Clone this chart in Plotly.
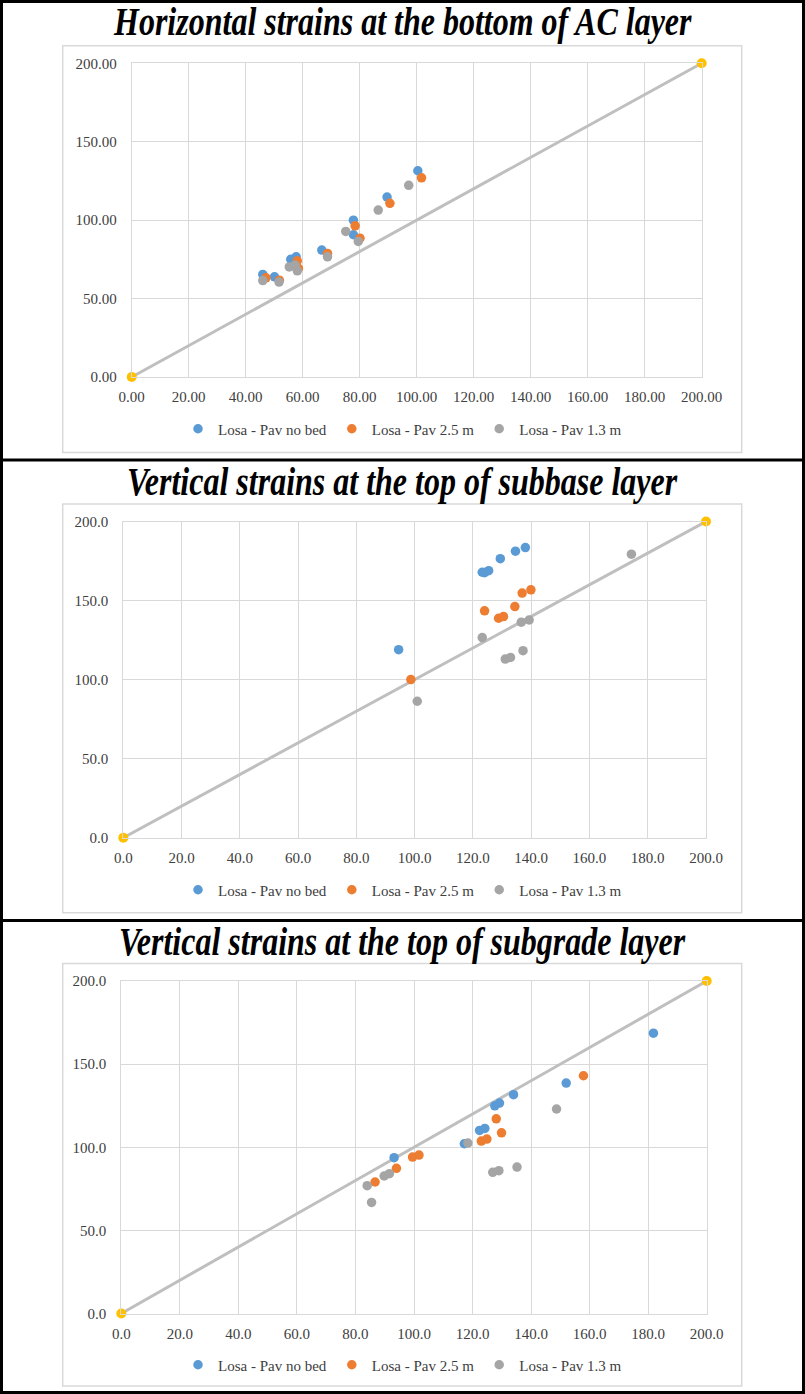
import plotly.graph_objects as go

W, H = 805, 1394

titles = [
    "Horizontal strains at the bottom of AC layer",
    "Vertical strains at the top of subbase layer",
    "Vertical strains at the top of subgrade layer",
]
series_names = ["Losa - Pav no bed", "Losa - Pav 2.5 m", "Losa - Pav 1.3 m"]
series_colors = ["#5B9BD5", "#ED7D31", "#A5A5A5"]

# reference line y = x (with end markers)
ref_x = [0, 200]
ref_y = [0, 200]

# ---- Panel 1: horizontal strains, bottom of AC layer ----
p1_nobed_x = [100.4, 89.6, 77.8, 77.8, 66.7, 57.7, 55.8, 46.0, 50.1]
p1_nobed_y = [131.5, 114.7, 100.0, 90.7, 80.9, 76.6, 75.0, 65.4, 63.9]
p1_25_x = [101.7, 90.6, 78.4, 80.1, 68.7, 58.1, 58.5, 47.1, 51.8]
p1_25_y = [127.0, 110.7, 96.4, 88.5, 78.8, 74.1, 69.2, 63.2, 61.7]
p1_13_x = [97.2, 86.5, 75.1, 79.5, 68.7, 55.3, 57.3, 58.1, 46.0, 51.7]
p1_13_y = [122.2, 106.4, 92.8, 86.4, 76.6, 70.2, 71.3, 67.7, 61.5, 60.5]

# ---- Panel 2: vertical strains, top of subbase layer ----
p2_nobed_x = [94.5, 123.2, 124.0, 125.4, 129.4, 134.6, 138.0]
p2_nobed_y = [118.9, 167.9, 167.6, 168.9, 176.5, 181.2, 183.5]
p2_25_x = [98.7, 124.0, 128.8, 130.5, 134.4, 136.9, 139.9]
p2_25_y = [100.0, 143.5, 138.8, 139.9, 146.2, 154.7, 156.8]
p2_13_x = [100.9, 123.2, 131.1, 132.9, 137.2, 136.6, 139.3, 174.4]
p2_13_y = [86.3, 126.6, 113.0, 114.0, 118.3, 136.3, 137.7, 179.3]

# ---- Panel 3: vertical strains, top of subgrade layer ----
p3_nobed_x = [93.2, 117.2, 122.4, 124.2, 127.6, 129.2, 134.0, 152.0, 181.8]
p3_nobed_y = [93.7, 102.1, 110.1, 111.3, 124.9, 126.6, 131.6, 138.6, 168.6]
p3_25_x = [86.7, 94.0, 99.5, 101.7, 123.0, 124.9, 128.1, 129.9, 157.9]
p3_25_y = [79.1, 87.3, 94.1, 95.3, 103.7, 104.9, 117.1, 108.7, 143.0]
p3_13_x = [84.0, 85.5, 89.8, 91.6, 118.4, 126.9, 129.0, 135.2, 148.7]
p3_13_y = [76.9, 66.8, 82.7, 84.1, 102.5, 84.9, 85.9, 88.1, 123.0]

panels = [
    dict(data=[(p1_nobed_x, p1_nobed_y), (p1_25_x, p1_25_y), (p1_13_x, p1_13_y)],
         fmt=".2f"),
    dict(data=[(p2_nobed_x, p2_nobed_y), (p2_25_x, p2_25_y), (p2_13_x, p2_13_y)],
         fmt=".1f"),
    dict(data=[(p3_nobed_x, p3_nobed_y), (p3_25_x, p3_25_y), (p3_13_x, p3_13_y)],
         fmt=".1f"),
]

# layout geometry in pixels
plot_px = [  # left, right, top, bottom of plot area
    (131.7, 701.7, 63.3, 377.0),
    (123.3, 706.0, 521.5, 837.7),
    (121.3, 706.7, 981.0, 1313.5),
]
box_px = [  # chart-area box left, right, top, bottom
    (62.7, 741.7, 45.7, 452.5),
    (62.7, 741.7, 504.0, 912.7),
    (62.7, 741.7, 963.4, 1386.0),
]
title_py = [22, 482, 942]
legend_py = [429, 890, 1365]
sep_py = [460, 920.5]

def px2x(p):
    return p / W

def py2y(p):
    return 1 - p / H

FONT = "Liberation Serif, Times New Roman, serif"
TICKC = "#404040"
GRID = "#D9D9D9"

fig = go.Figure()
layout = dict(
    width=W, height=H, margin=dict(l=0, r=0, t=0, b=0, autoexpand=False),
    paper_bgcolor="white", plot_bgcolor="white", showlegend=True,
    font=dict(family=FONT, size=15, color=TICKC),
)
shapes = []
annotations = []

for i, pan in enumerate(panels):
    n = "" if i == 0 else str(i + 1)
    xa, ya = "x" + n, "y" + n
    lg = "legend" + n
    l, r, t, b = plot_px[i]
    layout["xaxis" + n] = dict(
        domain=[px2x(l), px2x(r)], range=[0, 200], dtick=20, tick0=0,
        tickformat=pan["fmt"], showgrid=True, gridcolor=GRID, gridwidth=1,
        zeroline=False, showline=True, linecolor=GRID, linewidth=1, mirror=True,
        ticks="", ticklabelstandoff=6, anchor=ya, automargin=False,
        tickfont=dict(family=FONT, size=15, color=TICKC), fixedrange=True,
    )
    layout["yaxis" + n] = dict(
        domain=[py2y(b), py2y(t)], range=[0, 200], dtick=50, tick0=0,
        tickformat=pan["fmt"], showgrid=True, gridcolor=GRID, gridwidth=1,
        zeroline=False, showline=True, linecolor=GRID, linewidth=1, mirror=True,
        ticks="", ticklabelstandoff=11, anchor=xa, automargin=False,
        tickfont=dict(family=FONT, size=15, color=TICKC), fixedrange=True,
    )
    layout[lg] = dict(
        orientation="h", x=0.5, xanchor="center", y=py2y(legend_py[i]),
        yanchor="middle", font=dict(family=FONT, size=15, color=TICKC),
        bgcolor="rgba(0,0,0,0)", itemclick=False, itemdoubleclick=False,
        tracegroupgap=0,
    )
    # reference line y = x
    fig.add_trace(go.Scatter(
        x=ref_x, y=ref_y, mode="lines+markers", xaxis=xa, yaxis=ya,
        line=dict(color="#BFBFBF", width=3),
        marker=dict(color="#FFC000", size=10), cliponaxis=False,
        showlegend=False, hoverinfo="skip",
    ))
    for (sx, sy), name, col in zip(pan["data"], series_names, series_colors):
        fig.add_trace(go.Scatter(
            x=sx, y=sy, mode="markers", name=name, xaxis=xa, yaxis=ya,
            marker=dict(color=col, size=9.5), legend=lg, cliponaxis=False,
        ))
    bl, br, bt, bb = box_px[i]
    shapes.append(dict(type="rect", xref="paper", yref="paper",
                       x0=px2x(bl), x1=px2x(br), y0=py2y(bb), y1=py2y(bt),
                       line=dict(color="#D9D9D9", width=1.5), layer="below"))
    annotations.append(dict(
        text=titles[i], xref="paper", yref="paper", x=0.5, y=py2y(title_py[i]),
        xanchor="center", yanchor="middle", showarrow=False,
        font=dict(family=FONT, size=32, color="black", weight="bold", style="italic"),
    ))

# outer black frame and separators
shapes.append(dict(type="rect", xref="paper", yref="paper", x0=px2x(1.5), x1=px2x(W - 1.5),
                   y0=py2y(H - 1.5), y1=py2y(1.5), line=dict(color="black", width=3)))
for s in sep_py:
    shapes.append(dict(type="line", xref="paper", yref="paper", x0=0, x1=1,
                       y0=py2y(s), y1=py2y(s), line=dict(color="black", width=3)))

layout["shapes"] = shapes
layout["annotations"] = annotations
fig.update_layout(**layout)

# page without body margin; the original titles are rendered vertically stretched
post = ("var s=document.createElement('style');"
        "s.textContent='html,body{margin:0;padding:0;overflow:hidden;}"
        ".annotation-text{transform-box:fill-box;transform-origin:center;"
        "transform:scaleY(1.22);}';document.head.appendChild(s);")

fig.write_html("out.html", config={"displayModeBar": False}, post_script=post)
